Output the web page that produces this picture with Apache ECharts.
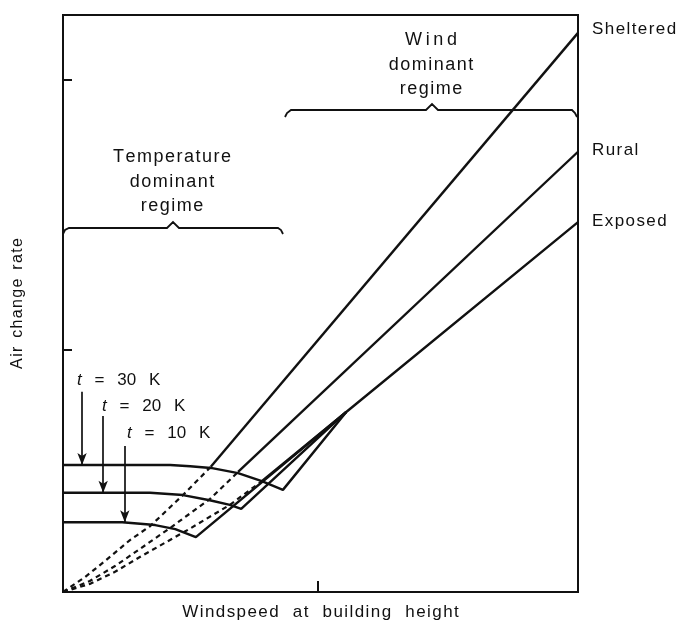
<!DOCTYPE html>
<html><head><meta charset="utf-8">
<script src="https://cdn.jsdelivr.net/npm/echarts@6/dist/echarts.min.js"></script>
<style>html,body{margin:0;padding:0;background:#fff}#c{width:691px;height:627px}</style>
</head><body><div id="c"></div>
<script>
// ---- data (arbitrary units) ----
const xTicks = [4.95];
const yTicks = [4.19, 8.87];

// wind-driven lines, low-speed part (dashed)
const shelteredLow = [[0,0],[0.43,0.26],[0.82,0.54],[1.30,0.90],[1.69,1.14],[2.33,1.68],[2.87,2.17]];
const ruralLow     = [[0,0],[0.52,0.19],[1.01,0.45],[1.50,0.75],[2.08,1.11],[2.85,1.61],[3.40,2.08]];
const exposedLow   = [[0,0],[0.52,0.14],[1.01,0.35],[1.50,0.61],[2.43,1.08],[3.24,1.51],[3.86,1.92]];

// wind-driven lines, wind dominant part (solid)
const shelteredHigh = [[2.87,2.17],[10,9.69]];
const ruralHigh     = [[3.40,2.08],[10,7.63]];
const exposedHigh   = [[3.86,1.92],[5.50,3.12],[10,6.41]];

// temperature dominant curves (stack effect), ending in a kink that rises to the exposed line
const t30 = [[0,2.20],[2.08,2.20],[2.47,2.18],[2.87,2.15],[3.40,2.06],[3.86,1.92],[4.27,1.77],[5.50,3.12]];
const t20 = [[0,1.72],[1.69,1.72],[2.33,1.68],[2.85,1.59],[3.24,1.51],[3.46,1.44],[5.50,3.12]];
const t10 = [[0,1.21],[1.15,1.21],[1.79,1.16],[2.18,1.09],[2.58,0.95],[5.50,3.12]];

// arrows pointing to the temperature curves
const arrowX   = [0.37, 0.78, 1.20];
const arrowTop = [3.47, 3.05, 2.53];
const arrowEnd = [2.20, 1.72, 1.21];
const tempLabels = ['30', '20', '10'];

const FONT = "'Liberation Sans', Arial, Helvetica, sans-serif";
const INK = '#111';
const HS = '\u200A';
const TS = '\u2009';
function sp(s) { return s.split('').join(HS); }

const chart = echarts.init(document.getElementById('c'), null, {renderer: 'canvas'});

function solid(name, data, endName, offY) {
  const s = {
    type: 'line', name: name, data: data, symbol: 'none', silent: true,
    lineStyle: {color: INK, width: 2.4}, animation: false, z: 3
  };
  if (endName) {
    s.endLabel = {show: true, formatter: sp(endName), color: INK, fontFamily: FONT,
      fontSize: 17, distance: 14, offset: [0, offY]};
  }
  return s;
}
function dashed(name, data) {
  return {type: 'line', name: name, data: data, symbol: 'none', silent: true, animation: false,
    lineStyle: {color: INK, width: 2.2, type: [5, 4]}, z: 2};
}

const arrowLines = arrowX.map((x, i) => [{coord: [x, arrowTop[i]]}, {coord: [x, arrowEnd[i]]}]);
const tPos = [[77, 380], [102, 406], [127, 433]];

chart.setOption({
  animation: false,
  backgroundColor: '#fff',
  grid: {left: 63, right: 113, top: 15, bottom: 35, show: true, borderColor: INK, borderWidth: 2, backgroundColor: 'transparent'},
  xAxis: {
    type: 'value', min: 0, max: 10,
    name: sp('Windspeed') + '   ' + sp('at') + '   ' + sp('building') + '   ' + sp('height'),
    nameLocation: 'middle', nameGap: 12,
    nameTextStyle: {color: INK, fontFamily: FONT, fontSize: 17},
    axisLine: {lineStyle: {color: INK, width: 2}},
    axisTick: {show: true, inside: true, length: 11, customValues: xTicks, lineStyle: {color: INK, width: 2}},
    axisLabel: {show: false}, splitLine: {show: false}
  },
  yAxis: {
    type: 'value', min: 0, max: 10,
    name: sp('Air') + '  ' + sp('change') + '  ' + sp('rate'), nameLocation: 'middle', nameGap: 37,
    nameTextStyle: {color: INK, fontFamily: FONT, fontSize: 16},
    axisLine: {lineStyle: {color: INK, width: 2}},
    axisTick: {show: true, inside: true, length: 9, customValues: yTicks, lineStyle: {color: INK, width: 2}},
    axisLabel: {show: false}, splitLine: {show: false}
  },
  series: [
    dashed('Sheltered low', shelteredLow),
    dashed('Rural low', ruralLow),
    dashed('Exposed low', exposedLow),
    solid('t = 30 K', t30),
    solid('t = 20 K', t20),
    solid('t = 10 K', t10),
    solid('Sheltered', shelteredHigh, 'Sheltered', -4),
    solid('Rural', ruralHigh, 'Rural', -1),
    solid('Exposed', exposedHigh, 'Exposed', -1),
    {
      type: 'line', name: 'arrows', data: [], silent: true,
      markLine: {
        silent: true, animation: false, symbol: ['none', 'arrow'], symbolSize: [7, 12],
        lineStyle: {color: INK, width: 1.7, type: 'solid'}, label: {show: false},
        data: arrowLines
      }
    }
  ],
  graphic: [
    {type: 'text', x: 172, y: 182, silent: true, style: {
      text: sp('Temperature') + '\n' + sp('dominant') + '\n' + sp('regime'), fill: INK, font: '18px ' + FONT,
      align: 'center', verticalAlign: 'middle', lineHeight: 24.5}},
    {type: 'text', x: 431, y: 65, silent: true, style: {
      text: 'W\u2009i\u2009n\u2009d\n' + sp('dominant') + '\n' + sp('regime'), fill: INK, font: '18px ' + FONT,
      align: 'center', verticalAlign: 'middle', lineHeight: 24.5}},
    {type: 'polyline', silent: true, shape: {points: [[63,234],[65,230],[69,228],[167,228],[173,222],[179,228],[278,228],[281,230],[283,234]]},
      style: {stroke: INK, lineWidth: 1.8, fill: null}},
    {type: 'polyline', silent: true, shape: {points: [[285,117],[287,113],[291,110],[426,110],[432,104],[438,110],[572,110],[575,113],[577,117]]},
      style: {stroke: INK, lineWidth: 1.8, fill: null}}
  ].concat(tempLabels.map((v, i) => ({
    type: 'text', x: tPos[i][0], y: tPos[i][1], silent: true,
    style: {text: '{i|t}  ' + TS + '=  ' + TS + v + '  ' + TS + 'K', fill: INK, font: '17px ' + FONT, verticalAlign: 'middle',
      rich: {i: {fontStyle: 'italic', fontFamily: FONT, fontSize: 17, fill: INK}}}
  })))
});
</script>
</body></html>
